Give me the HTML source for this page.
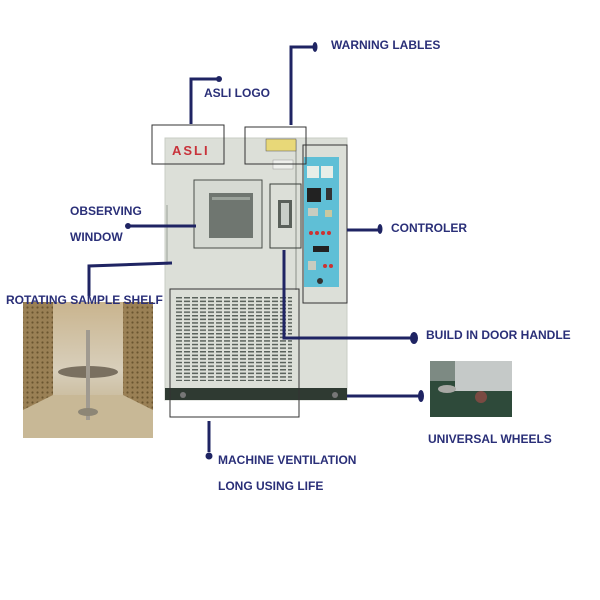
<!DOCTYPE html>
<html><head><style>
html,body{margin:0;padding:0;background:#fff;width:600px;height:600px;overflow:hidden}
svg text{font-family:"Liberation Sans",Arial,sans-serif;font-size:12px;fill:#2a2f78;font-weight:bold}
</style></head><body>
<svg width="600" height="600" viewBox="0 0 600 600" xmlns="http://www.w3.org/2000/svg">
<defs>
<pattern id="vent" x="176" y="297" width="8" height="3.6" patternUnits="userSpaceOnUse">
<rect x="0" y="0" width="6" height="1.5" fill="#5a625c"/>
</pattern>
<pattern id="perf" width="5" height="5" patternUnits="userSpaceOnUse">
<circle cx="2.5" cy="2.5" r="1.1" fill="#6a5530"/>
</pattern>
<linearGradient id="shelf" x1="0" y1="0" x2="0" y2="1">
<stop offset="0" stop-color="#c9b48e"/><stop offset="0.5" stop-color="#d8cfbb"/><stop offset="1" stop-color="#b9a47a"/>
</linearGradient>
</defs>
<!-- machine body -->
<rect x="165" y="138" width="182" height="262" fill="#dcdfd8"/>
<rect x="165" y="138" width="182" height="262" fill="none" stroke="#c8ccc5" stroke-width="1"/>
<line x1="296" y1="140" x2="296" y2="290" stroke="#8a8f88" stroke-width="1"/>
<line x1="167" y1="205" x2="167" y2="265" stroke="#9aa098" stroke-width="1"/>
<!-- base -->
<rect x="165" y="388" width="182" height="12" fill="#2f3a32"/>
<circle cx="183" cy="395" r="3" fill="#777"/><circle cx="335" cy="395" r="3" fill="#777"/>
<!-- ASLI -->
<text x="172" y="155" style="font-size:13px;fill:#c8323a;letter-spacing:2px">ASLI</text>
<!-- warning labels -->
<rect x="266" y="139" width="30" height="12" fill="#e8d878" stroke="#555" stroke-width="0.5"/>
<rect x="273" y="160" width="20" height="9" fill="#eef0ec" stroke="#999" stroke-width="0.5"/>
<!-- window -->
<rect x="194" y="180" width="68" height="68" fill="#d6dad3" stroke="#4a4f4a" stroke-width="1"/>
<rect x="209" y="193" width="44" height="45" fill="#6f7670"/>
<rect x="212" y="197" width="38" height="3" fill="#9aa29a"/>
<!-- handle -->
<rect x="270" y="184" width="31" height="64" fill="none" stroke="#3a3f3a" stroke-width="1"/>
<rect x="278" y="200" width="14" height="28" fill="#5a605a"/>
<rect x="281" y="203" width="8" height="22" fill="#c9cec8"/>
<!-- controller -->
<rect x="304" y="157" width="35" height="130" fill="#5fbfd6"/>
<rect x="307" y="166" width="12" height="12" fill="#e8eee8"/><rect x="321" y="166" width="12" height="12" fill="#e8eee8"/>
<rect x="307" y="188" width="14" height="14" fill="#222"/><rect x="326" y="188" width="6" height="12" fill="#333"/>
<rect x="308" y="208" width="10" height="8" fill="#c8ccc0"/><rect x="325" y="210" width="7" height="7" fill="#c8c8a0"/>
<circle cx="311" cy="233" r="2" fill="#c33"/><circle cx="317" cy="233" r="2" fill="#c33"/><circle cx="323" cy="233" r="2" fill="#c33"/><circle cx="329" cy="233" r="2" fill="#c33"/>
<rect x="313" y="246" width="16" height="6" fill="#222"/>
<rect x="308" y="261" width="8" height="9" fill="#c8ccc0"/><circle cx="325" cy="266" r="2" fill="#c33"/><circle cx="331" cy="266" r="2" fill="#c33"/>
<circle cx="320" cy="281" r="3" fill="#333"/>
<rect x="303" y="145" width="44" height="158" fill="none" stroke="#333" stroke-width="1"/>
<!-- vent -->
<rect x="176" y="297" width="116" height="84" fill="url(#vent)"/>
<!-- outline boxes -->
<rect x="152" y="125" width="72" height="39" fill="none" stroke="#333" stroke-width="1"/>
<rect x="245" y="127" width="61" height="37" fill="none" stroke="#333" stroke-width="1"/>
<rect x="170" y="289" width="129" height="128" fill="none" stroke="#333" stroke-width="1"/>
<!-- shelf photo -->
<rect x="23" y="302" width="130" height="136" fill="url(#shelf)"/>
<rect x="23" y="302" width="30" height="136" fill="#9a8055"/><rect x="23" y="302" width="30" height="136" fill="url(#perf)"/>
<rect x="123" y="302" width="30" height="136" fill="#9a8055"/><rect x="123" y="302" width="30" height="136" fill="url(#perf)"/>
<polygon points="23,410 53,395 123,395 153,410 153,438 23,438" fill="#c8b896"/>
<ellipse cx="88" cy="372" rx="30" ry="6" fill="#7a7060"/>
<rect x="86" y="330" width="4" height="90" fill="#a09a90"/>
<ellipse cx="88" cy="412" rx="10" ry="4" fill="#8d8676"/>
<!-- wheels photo -->
<rect x="430" y="361" width="82" height="56" fill="#2e4a3a"/>
<rect x="455" y="361" width="57" height="30" fill="#c5c9c8"/>
<rect x="430" y="361" width="25" height="20" fill="#7d8a83"/>
<ellipse cx="447" cy="389" rx="9" ry="4" fill="#a8a8a4"/>
<circle cx="481" cy="397" r="6" fill="#7a4a42"/>
<!-- connectors -->
<g stroke="#1f2463" stroke-width="3" fill="none">
<polyline points="191,124 191,79 219,79"/>
<polyline points="291,125 291,47 314,47"/>
<line x1="128" y1="226" x2="196" y2="226"/>
<polyline points="89,296 89,266 172,263"/>
<line x1="347" y1="230" x2="380" y2="230"/>
<polyline points="284,250 284,338 413,338"/>
<line x1="347" y1="396" x2="420" y2="396"/>
<line x1="209" y1="421" x2="209" y2="452"/>
</g>
<g fill="#1f2463">
<circle cx="219" cy="79" r="3"/>
<ellipse cx="315" cy="47" rx="2.5" ry="5"/>
<circle cx="128" cy="226" r="3"/>
<ellipse cx="380" cy="229" rx="2.5" ry="5"/>
<ellipse cx="414" cy="338" rx="4" ry="6"/>
<ellipse cx="421" cy="396" rx="3" ry="6"/>
<circle cx="209" cy="456" r="3.5"/>
</g>
<!-- labels -->
<text x="331" y="49">WARNING LABLES</text>
<text x="204" y="97">ASLI LOGO</text>
<text x="70" y="215">OBSERVING</text>
<text x="70" y="241">WINDOW</text>
<text x="391" y="232">CONTROLER</text>
<text x="6" y="304">ROTATING SAMPLE SHELF</text>
<text x="426" y="339">BUILD IN DOOR HANDLE</text>
<text x="428" y="443">UNIVERSAL WHEELS</text>
<text x="218" y="464">MACHINE VENTILATION</text>
<text x="218" y="490">LONG USING LIFE</text>
</svg>
</body></html>
